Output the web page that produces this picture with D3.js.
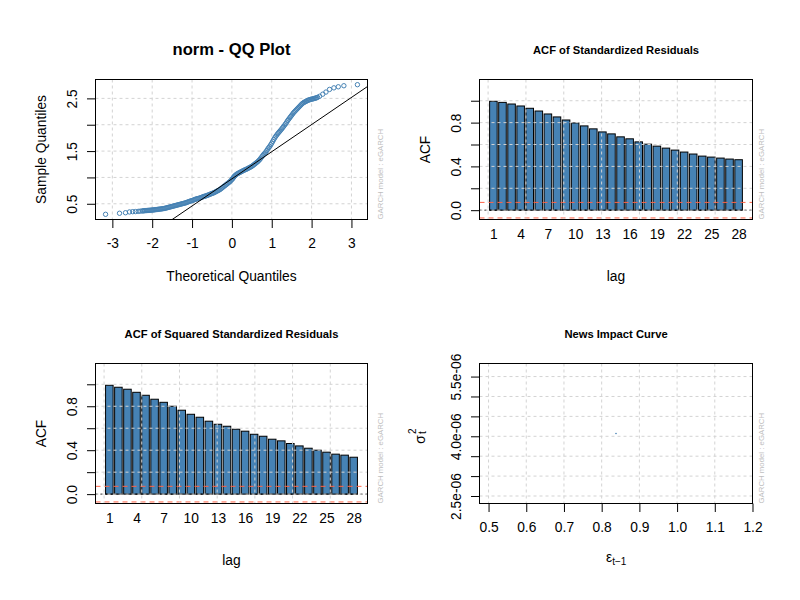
<!DOCTYPE html>
<html><head><meta charset="utf-8">
<script src="https://cdn.jsdelivr.net/npm/d3@7"></script>
<style>body{margin:0;background:#fff} text{font-family:"Liberation Sans",Arial,sans-serif;fill:#000}</style>
</head><body><svg id="c" width="800" height="600" xmlns="http://www.w3.org/2000/svg"></svg>
<script>
// ---------------- data ----------------
const qqTheoretical = [-3.17,-2.82,-2.67,-2.57,-2.49,-2.42,-2.35,-2.3,
 -2.25,-2.225,-2.2,-2.175,-2.15,-2.125,-2.1,-2.075,-2.05,-2.025,-2.0,-1.975,-1.95,-1.925,-1.9,-1.875,-1.85,-1.825,-1.8,-1.775,-1.75,-1.725,-1.7,-1.675,-1.65,-1.625,-1.6,-1.575,-1.55,-1.525,-1.5,-1.475,-1.45,-1.425,-1.4,-1.375,-1.35,-1.325,-1.3,-1.275,-1.25,-1.225,-1.2,-1.175,-1.15,-1.125,-1.1,-1.075,-1.05,-1.025,
 -1.0,-0.975,-0.95,-0.925,-0.9,-0.875,-0.85,-0.825,-0.8,-0.775,-0.75,-0.725,-0.7,-0.675,-0.65,-0.625,-0.6,-0.575,-0.55,-0.525,-0.5,-0.475,-0.45,-0.425,-0.4,-0.375,-0.35,-0.325,-0.3,-0.275,-0.25,-0.225,-0.2,-0.175,-0.15,-0.125,-0.1,-0.075,-0.05,-0.025,
 0.0,0.015,0.03,0.045,0.06,0.08,0.1,0.125,0.15,0.175,0.2,0.225,0.25,0.275,0.3,0.325,0.35,0.375,0.4,0.425,0.45,0.475,0.5,0.525,0.55,0.575,0.6,0.625,0.65,0.675,0.7,0.725,0.75,0.775,0.8,0.825,0.85,0.875,0.9,0.925,0.95,0.975,
 1.0,1.025,1.05,1.075,1.1,1.125,1.15,1.175,1.2,1.225,1.25,1.275,1.3,1.325,1.35,1.375,1.4,1.425,1.45,1.475,1.5,1.525,1.55,1.575,1.6,1.625,1.65,1.675,1.7,1.725,1.75,1.775,1.8,1.825,1.85,1.875,1.9,1.925,1.95,1.975,
 2.0,2.025,2.05,2.075,2.1,2.125,2.15,2.2,2.28,2.36,2.45,2.56,2.67,2.81,3.15];
const qqSample = [0.30,0.32,0.33,0.345,0.35,0.352,0.356,0.36,
 0.364,0.366,0.368,0.37,0.371,0.373,0.374,0.376,0.377,0.379,0.381,0.383,0.385,0.388,0.39,0.392,0.395,0.397,0.40,0.402,0.405,0.408,0.411,0.415,0.42,0.425,0.43,0.435,0.44,0.445,0.45,0.455,0.46,0.465,0.47,0.475,0.48,0.485,0.49,0.495,0.50,0.505,0.51,0.515,0.52,0.528,0.535,0.543,0.55,0.555,
 0.56,0.568,0.575,0.583,0.59,0.595,0.60,0.605,0.61,0.618,0.625,0.633,0.64,0.645,0.65,0.658,0.665,0.673,0.68,0.688,0.695,0.703,0.71,0.72,0.73,0.74,0.75,0.76,0.77,0.785,0.80,0.815,0.83,0.845,0.86,0.875,0.89,0.905,0.92,0.94,
 0.96,0.975,0.99,1.005,1.02,1.035,1.05,1.063,1.075,1.085,1.095,1.105,1.115,1.125,1.135,1.143,1.15,1.16,1.17,1.18,1.19,1.20,1.21,1.225,1.24,1.255,1.27,1.285,1.30,1.32,1.34,1.365,1.39,1.415,1.44,1.46,1.48,1.51,1.54,1.565,1.59,1.62,
 1.65,1.685,1.72,1.75,1.78,1.805,1.83,1.853,1.875,1.898,1.92,1.945,1.97,1.995,2.02,2.05,2.08,2.105,2.13,2.155,2.18,2.205,2.23,2.25,2.27,2.29,2.31,2.33,2.35,2.37,2.39,2.405,2.42,2.43,2.44,2.45,2.46,2.468,2.475,2.48,
 2.485,2.49,2.495,2.50,2.505,2.512,2.52,2.54,2.58,2.62,2.67,2.70,2.72,2.74,2.76];
const qqLineIntercept = 0.973;
const qqLineSlope = 0.515;
const qqXTicks = [-3,-2,-1,0,1,2,3];
const qqYTicks = [0.5,1.0,1.5,2.0,2.5];
const qqYLabels = ["0.5","","1.5","","2.5"];

const acfLags = [1,2,3,4,5,6,7,8,9,10,11,12,13,14,15,16,17,18,19,20,21,22,23,24,25,26,27,28];
const acfLagLabels = [1,4,7,10,13,16,19,22,25,28];
const acfResid = [0.995,0.985,0.970,0.952,0.931,0.906,0.879,0.852,0.824,0.797,0.770,0.743,0.715,0.697,0.670,0.652,0.624,0.603,0.585,0.567,0.549,0.531,0.513,0.494,0.485,0.476,0.467,0.461];
const acfSqResid = [0.991,0.973,0.955,0.927,0.900,0.864,0.836,0.800,0.764,0.727,0.700,0.664,0.636,0.618,0.591,0.573,0.545,0.527,0.500,0.485,0.461,0.439,0.418,0.400,0.382,0.364,0.355,0.336];
const acfConfLimit = 0.071;
const acfYTicks = [0,0.2,0.4,0.6,0.8,1.0];
const acfYLabels = ["0.0","","0.4","","0.8",""];

const newsX = [0.838];
const newsY = [4.07e-6];
const newsXTicks = [0.5,0.6,0.7,0.8,0.9,1.0,1.1,1.2];
const newsYTicks = [2.5e-6,3.0e-6,3.5e-6,4.0e-6,4.5e-6,5.0e-6,5.5e-6];
const newsYLabels = ["2.5e-06","","","4.0e-06","","","5.5e-06"];

const modelText = "GARCH model : eGARCH";

// ---------------- layout ----------------
const svg = d3.select("#c");
const BASE = 13.8;
const GRID = "#d3d3d3";
const BLUE = "steelblue";
const boxes = {
  tl:{x0:95.5,x1:367.5,y0:79.5,y1:219.5},
  tr:{x0:479.5,x1:752.5,y0:79.5,y1:219.5},
  bl:{x0:95.5,x1:367.5,y0:363.5,y1:503.5},
  br:{x0:479.5,x1:752.5,y0:363.5,y1:503.5}
};
function ext(lo,hi){const d=(hi-lo)*0.04;return [lo-d,hi+d];}

function clip(id,b){
  svg.append("clipPath").attr("id",id).append("rect")
    .attr("x",b.x0).attr("y",b.y0).attr("width",b.x1-b.x0).attr("height",b.y1-b.y0);
}
function gridLines(g,b,x,y,xs,ys){
  xs.forEach(v=>g.append("line").attr("x1",x(v)).attr("x2",x(v)).attr("y1",b.y0).attr("y2",b.y1)
    .attr("stroke",GRID).attr("stroke-dasharray","3,3"));
  ys.forEach(v=>g.append("line").attr("x1",b.x0).attr("x2",b.x1).attr("y1",y(v)).attr("y2",y(v))
    .attr("stroke",GRID).attr("stroke-dasharray","3,3"));
}
function frame(b){
  svg.append("rect").attr("x",b.x0).attr("y",b.y0).attr("width",b.x1-b.x0).attr("height",b.y1-b.y0)
    .attr("fill","none").attr("stroke","#000").attr("stroke-width",1);
}
function bottomAxis(b,x,ticks,fmt,size){
  const ax=d3.axisBottom(x).tickValues(ticks).tickFormat(fmt).tickSize(size).tickPadding(10);
  const g=svg.append("g").attr("transform",`translate(0,${b.y1})`).call(ax);
  g.select(".domain").remove();
  g.selectAll("line").attr("stroke","#000");
  g.selectAll("text").attr("font-size",BASE).attr("font-family",null).attr("fill","#000");
  return g;
}
function leftAxis(b,y,ticks,labels){
  const ax=d3.axisLeft(y).tickValues(ticks).tickFormat((d,i)=>labels[i]).tickSize(8.5);
  const g=svg.append("g").attr("transform",`translate(${b.x0},0)`).call(ax);
  g.select(".domain").remove();
  g.selectAll("line").attr("stroke","#000");
  g.selectAll("text").attr("font-size",BASE).attr("font-family",null).attr("fill","#000")
    .attr("x",null).attr("dy",null).attr("text-anchor","middle")
    .attr("transform","translate(-19,0) rotate(-90)");
  return g;
}
function title(b,txt,size,base){
  svg.append("text").attr("x",(b.x0+b.x1)/2).attr("y",base).attr("text-anchor","middle")
    .attr("font-size",size).attr("font-weight","bold").text(txt);
}
function xlab(b,txt){
  svg.append("text").attr("x",(b.x0+b.x1)/2).attr("y",b.y1+61).attr("text-anchor","middle")
    .attr("font-size",BASE).text(txt);
}
function ylab(b,txt){
  svg.append("text").attr("transform",`translate(${b.x0-50},${(b.y0+b.y1)/2}) rotate(-90)`)
    .attr("text-anchor","middle").attr("font-size",BASE).text(txt);
}
function sideText(b,dx){
  svg.append("text").attr("transform",`translate(${b.x1+dx},${b.y1}) rotate(-90)`)
    .attr("text-anchor","start").attr("font-size",7.8).style("fill","#bebebe").text(modelText);
}

// ---------------- QQ plot ----------------
(function(){
  const b=boxes.tl;
  const x=d3.scaleLinear().domain(ext(d3.min(qqTheoretical),d3.max(qqTheoretical))).range([b.x0,b.x1]);
  const y=d3.scaleLinear().domain(ext(d3.min(qqSample),d3.max(qqSample))).range([b.y1,b.y0]);
  clip("cqq",b);
  const g=svg.append("g").attr("clip-path","url(#cqq)");
  gridLines(g,b,x,y,qqXTicks,qqYTicks);
  g.selectAll("circle").data(qqTheoretical).join("circle")
    .attr("cx",d=>x(d)).attr("cy",(d,i)=>y(qqSample[i])).attr("r",2.2)
    .attr("fill","none").attr("stroke",BLUE).attr("stroke-width",1);
  const xd=x.domain();
  g.append("line").attr("x1",x(xd[0])).attr("y1",y(qqLineIntercept+qqLineSlope*xd[0]))
    .attr("x2",x(xd[1])).attr("y2",y(qqLineIntercept+qqLineSlope*xd[1])).attr("stroke","#000");
  frame(b);
  bottomAxis(b,x,qqXTicks,d=>d<0?"-"+Math.abs(d):String(d),8.5);
  leftAxis(b,y,qqYTicks,qqYLabels);
  title(b,"norm - QQ Plot",16.6,55);
  xlab(b,"Theoretical Quantiles");
  ylab(b,"Sample Quantiles");
  sideText(b,15);
})();

// ---------------- ACF panels ----------------
function acfPanel(b,vals,ttl,id,sideDx){
  const x=d3.scaleLinear().domain(ext(0.2,0.2+1.2*vals.length-0.2)).range([b.x0,b.x1]);
  const y=d3.scaleLinear().domain([-1.2*acfConfLimit,1.2*d3.max(vals)]).range([b.y1,b.y0]);
  clip(id,b);
  const g=svg.append("g").attr("clip-path",`url(#${id})`);
  g.selectAll("rect.bar").data(vals).join("rect").attr("class","bar")
    .attr("x",(d,i)=>x(0.2+1.2*i)).attr("width",(d,i)=>x(1.2+1.2*i)-x(0.2+1.2*i))
    .attr("y",d=>y(Math.max(0,d))).attr("height",d=>Math.abs(y(d)-y(0)))
    .attr("fill",d=>d>=0?BLUE:"orange").attr("stroke","#000").attr("stroke-width",1);
  [acfConfLimit,-acfConfLimit].forEach(v=>g.append("line").attr("x1",b.x0).attr("x2",b.x1)
    .attr("y1",y(v)).attr("y2",y(v)).attr("stroke","#ff6347").attr("stroke-dasharray","5,4"));
  g.append("line").attr("x1",b.x0).attr("x2",b.x1).attr("y1",y(0)).attr("y2",y(0))
    .attr("stroke","#000").attr("stroke-dasharray","2,3");
  gridLines(g,b,x,y,d3.ticks(0,x.domain()[1],7).filter(v=>v>=x.domain()[0]),acfYTicks);
  frame(b);
  const centers=acfLags.map((l,i)=>0.7+1.2*i);
  bottomAxis(b,x,centers,(d,i)=>acfLagLabels.includes(acfLags[i])?String(acfLags[i]):"",0)
    .selectAll("line").remove();
  leftAxis(b,y,acfYTicks,acfYLabels);
  title(b,ttl,11.2,b.y0-26);
  xlab(b,"lag");
  ylab(b,"ACF");
  sideText(b,sideDx);
}
acfPanel(boxes.tr,acfResid,"ACF of Standardized Residuals","cacf1",11.5);
acfPanel(boxes.bl,acfSqResid,"ACF of Squared Standardized Residuals","cacf2",15);

// ---------------- News impact ----------------
(function(){
  const b=boxes.br;
  const zx=d3.extent(newsX), zy=d3.extent(newsY);
  const xr=zx[0]===zx[1]?[zx[0]*0.6,zx[1]*1.4]:zx;
  const yr=zy[0]===zy[1]?[zy[0]*0.6,zy[1]*1.4]:zy;
  const x=d3.scaleLinear().domain(ext(xr[0],xr[1])).range([b.x0,b.x1]);
  const y=d3.scaleLinear().domain(ext(yr[0],yr[1])).range([b.y1,b.y0]);
  clip("cni",b);
  const g=svg.append("g").attr("clip-path","url(#cni)");
  gridLines(g,b,x,y,newsXTicks,newsYTicks);
  g.selectAll("circle").data(newsX).join("circle").attr("cx",d=>x(d)).attr("cy",(d,i)=>y(newsY[i]))
    .attr("r",0.8).attr("fill",BLUE);
  frame(b);
  bottomAxis(b,x,newsXTicks,d3.format(".1f"),8.5);
  leftAxis(b,y,newsYTicks,newsYLabels);
  title(b,"News Impact Curve",11.2,b.y0-26);
  const xl=svg.append("text").attr("x",(b.x0+b.x1)/2-10).attr("y",562).attr("font-size",BASE);
  xl.append("tspan").text("ε");
  xl.append("tspan").attr("font-size",10).attr("dy",3).text("t−1");
  const yl=svg.append("g").attr("transform",`translate(421,${(b.y0+b.y1)/2+6}) rotate(-90)`);
  yl.append("text").attr("x",0).attr("y",3.6).attr("text-anchor","middle").attr("font-size",BASE).text("σ");
  yl.append("text").attr("x",5.5).attr("y",-5.5).attr("font-size",10).text("2");
  yl.append("text").attr("x",5.5).attr("y",5).attr("font-size",10).text("t");
  sideText(b,11.5);
})();
</script>
</body></html>
